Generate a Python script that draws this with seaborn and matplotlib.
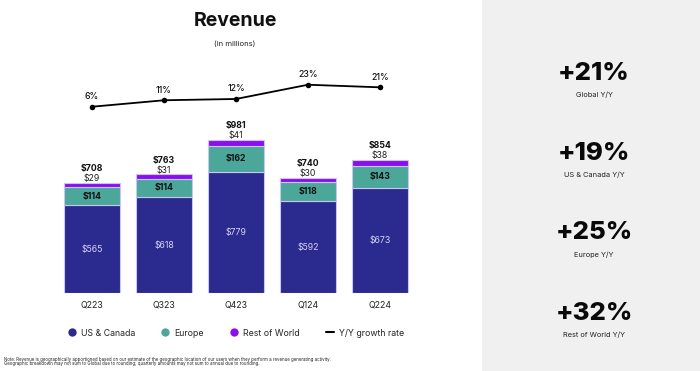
import matplotlib
matplotlib.use("Agg")
import matplotlib.pyplot as plt
import seaborn as sns
import pandas as pd
import numpy as np
from matplotlib.lines import Line2D

sns.set_theme(style="white")
plt.rcParams['font.family'] = ['Inter', 'DejaVu Sans']

quarters = ["Q223", "Q323", "Q423", "Q124", "Q224"]
us_canada = [565, 618, 779, 592, 673]
europe = [114, 114, 162, 118, 143]
rest_world = [29, 31, 41, 30, 38]
totals = [708, 763, 981, 740, 854]
growth = [6, 11, 12, 23, 21]

kpi_values = ["+21%", "+19%", "+25%", "+32%"]
kpi_labels = ["Global Y/Y", "US & Canada Y/Y", "Europe Y/Y", "Rest of World Y/Y"]

c_us = "#2b2a8e"
c_eu = "#4aa79a"
c_row = "#8a0ef0"
edge = "#c9c6f2"

W, H = 700, 371
fig = plt.figure(figsize=(7, 3.71), dpi=100)
fig.patch.set_facecolor("white")

# right grey panel
fig.patches.append(plt.Rectangle((482 / W, 0), 1 - 482 / W, 1, transform=fig.transFigure,
                                 facecolor="#f0f0f0", edgecolor="none", zorder=0))

px_per_unit = 0.1563
y0_px = 293.3
top_px = 30
left_px = 92 - 0.7 * 72
right_px = 380 + 0.7 * 72
ax = fig.add_axes([left_px / W, (H - y0_px) / H, (right_px - left_px) / W, (y0_px - top_px) / H])

df = pd.DataFrame({"quarter": quarters, "us": us_canada, "eu": europe, "row": rest_world})
eu_bottom = np.array(us_canada)
row_bottom = eu_bottom + np.array(europe)

bw = 56 / 72
sns.barplot(data=df, x="quarter", y="us", color=c_us, width=bw, ax=ax,
            edgecolor=edge, linewidth=0.8, saturation=1)
ax.bar(range(5), europe, bottom=eu_bottom, width=bw, color=c_eu, edgecolor=edge, linewidth=0.8)
ax.bar(range(5), rest_world, bottom=row_bottom, width=bw, color=c_row, edgecolor=edge, linewidth=0.8)
ax.set_xlim(-0.7, 4.7)
ax.set_ylim(0, (y0_px - top_px) / px_per_unit)

for i in range(5):
    ax.text(i, us_canada[i] / 2, f"${us_canada[i]}", ha="center", va="center",
            color="#d6d4f6", fontsize=6.3)
    ax.text(i, eu_bottom[i] + europe[i] / 2, f"${europe[i]}", ha="center", va="center",
            color="#111111", fontsize=6.3, fontweight="bold")
    top = row_bottom[i] + rest_world[i]
    ax.annotate(f"${rest_world[i]}", (i, top), xytext=(0, 4), textcoords="offset pixels",
                ha="center", va="center", fontsize=6.3, color="#222222")
    ax.annotate(f"${totals[i]}", (i, top), xytext=(0, 14), textcoords="offset pixels",
                ha="center", va="center", fontsize=6.3, color="#111111", fontweight="bold")

ax.set_xlabel("")
ax.set_ylabel("")
ax.set_yticks([])
ax.tick_params(axis="x", length=0, labelsize=6.3, pad=5, colors="#222222")
for s in ax.spines.values():
    s.set_visible(False)
ax.patch.set_alpha(0)

# growth line on twin axis
ax2 = ax.twinx()
zero_px = 114.5
ppp = 1.294
sns.lineplot(x=list(range(5)), y=growth, ax=ax2, color="black", linewidth=1.3,
             marker="o", markersize=4, markeredgewidth=0)
ax2.set_xlim(-0.7, 4.7)
ax2.set_ylim((zero_px - y0_px) / ppp, (zero_px - top_px) / ppp)
for i, g in enumerate(growth):
    ax2.annotate(f"{g}%", (i, g), xytext=(0, 10), textcoords="offset pixels",
                 ha="center", va="center", fontsize=6.3, color="#111111", fontweight="medium")
ax2.set_yticks([])
ax2.set_ylabel("")
for s in ax2.spines.values():
    s.set_visible(False)

# title
fig.text(235 / W, 1 - 21 / H, "Revenue", ha="center", va="center", fontsize=14,
         fontweight="bold", color="#111111")
fig.text(235 / W, 1 - 44 / H, "(in millions)", ha="center", va="center", fontsize=5.5,
         color="#222222")

# legend
handles = [
    Line2D([], [], marker="o", linestyle="none", color=c_us, markersize=6, markeredgewidth=0),
    Line2D([], [], marker="o", linestyle="none", color=c_eu, markersize=6, markeredgewidth=0),
    Line2D([], [], marker="o", linestyle="none", color=c_row, markersize=6, markeredgewidth=0),
    Line2D([], [], color="black", linewidth=1.5),
]
labels = ["US & Canada", "Europe", "Rest of World", "Y/Y growth rate"]
fig.legend(handles, labels, loc="center", bbox_to_anchor=(236 / W, 1 - 333 / H), ncol=4,
           frameon=False, fontsize=6.3, handlelength=0.9, handletextpad=0.6,
           columnspacing=3.0)

# note
fig.text(4 / W, 1 - 359 / H,
         "Note: Revenue is geographically apportioned based on our estimate of the geographic location of our users when they perform a revenue generating activity.",
         ha="left", va="center", fontsize=3.15, color="#222222")
fig.text(4 / W, 1 - 364 / H,
         "Geographic breakdown may not sum to Global due to rounding; quarterly amounts may not sum to annual due to rounding.",
         ha="left", va="center", fontsize=3.15, color="#222222")

# KPI panel
kpi_y = [73, 153, 233, 313]
for v, lab, y in zip(kpi_values, kpi_labels, kpi_y):
    fig.text(594 / W, 1 - y / H, v, ha="center", va="center", fontsize=18.5,
             fontweight="heavy", color="#0a0a0a")
    fig.text(594 / W, 1 - (y + 22) / H, lab, ha="center", va="center", fontsize=5.3,
             color="#222222")

fig.savefig("out.png", dpi=100)
